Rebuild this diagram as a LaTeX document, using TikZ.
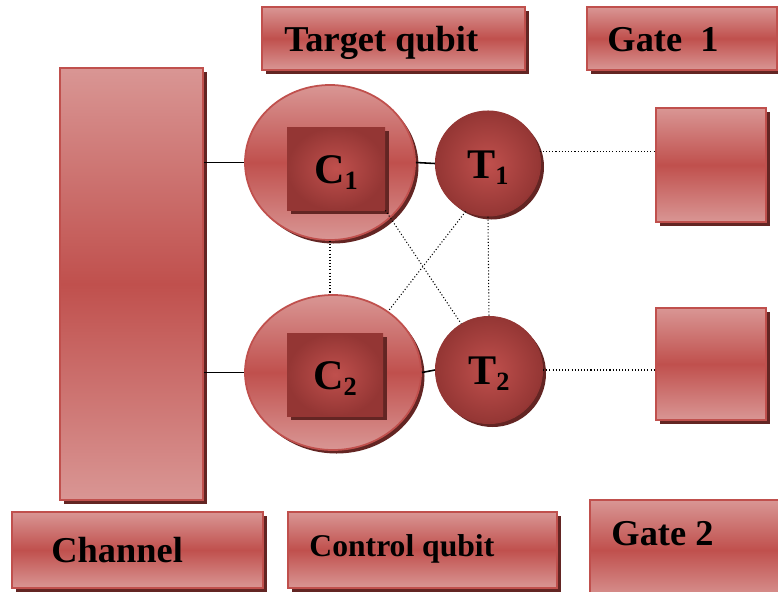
\documentclass[tikz,border=0pt]{standalone}
\usepackage{fontspec}
\setmainfont{Liberation Serif}
\usepackage{tikz}
\usetikzlibrary{shapes.geometric, shadows, positioning, calc}
\definecolor{boxlight}{RGB}{217,150,148}
\definecolor{boxmid}{RGB}{192,80,77}
\definecolor{boxdark}{RGB}{148,54,52}
\definecolor{shadowred}{RGB}{99,37,35}
\newcommand{\qsub}[2]{#1\raisebox{-0.12cm}{\fontsize{15}{15}\selectfont #2}}

\begin{document}
\begin{tikzpicture}[wire/.style={draw=black, line width=0.9pt}, dots/.style={draw=black, line width=0.6pt, dash pattern=on 0.6pt off 1.2pt}, redshadow/.style={drop shadow={fill=shadowred, opacity=1, shadow xshift=0.07cm, shadow yshift=-0.07cm}}]
% Define styles for panels, discs and labels
\tikzstyle{panel} = [rectangle, draw=boxmid, line width=1pt, top color=boxlight, bottom color=boxlight, middle color=boxmid, redshadow]
\tikzstyle{control} = [ellipse, draw=boxmid, line width=1pt, top color=boxlight, bottom color=boxlight, middle color=boxmid, redshadow]
\tikzstyle{core} = [rectangle, inner color=boxmid, outer color=boxdark, redshadow, font=\fontsize{24}{24}\bfseries, text height=0.58cm, text depth=0pt]
\tikzstyle{target} = [circle, draw=boxdark, line width=0.6pt, inner color=boxmid, outer color=boxdark, redshadow, font=\fontsize{24}{24}\bfseries, text height=0.58cm, text depth=0pt]
\tikzstyle{tag} = [inner sep=0pt, font=\fontsize{20.7}{24}\bfseries, text height=0.5cm, text depth=0pt]

\useasboundingbox (0,0) rectangle (15.56,11.82);
\clip (0,0) rectangle (15.56,11.82);

% Top row
\node [panel, minimum width=5.26cm, minimum height=1.26cm] (tq) at (7.87,11.05) {};
\node [tag, right=0.46cm of tq.west] (tqtext) {Target qubit};
\node [panel, minimum width=3.8cm, minimum height=1.26cm] (gone) at (13.64,11.05) {};
\node [tag, right=0.42cm of gone.west] (gonetext) {Gate~~1};

% Channel
\node [panel, minimum width=2.86cm, minimum height=8.64cm] (channel) at (2.63,6.14) {};

% Control qubits
\node [control, minimum width=3.4cm, minimum height=3.1cm] (c1) at (6.6,8.57) {};
\node [core, minimum width=1.96cm, minimum height=1.66cm] (c1box) at (6.72,8.45) {\qsub{C}{1}};
\node [control, minimum width=3.52cm, minimum height=3.1cm] (c2) at (6.66,4.37) {};
\node [core, minimum width=1.92cm, minimum height=1.66cm] (c2box) at (6.70,4.33) {\qsub{C}{2}};

% Target qubits
\node [target, minimum size=2.1cm] (t1) at (9.76,8.55) {\qsub{T}{1}};
\node [target, minimum size=2.14cm] (t2) at (9.78,4.42) {\qsub{T}{2}};

% Gates
\node [panel, minimum width=2.2cm, minimum height=2.28cm] (gatea) at (14.22,8.52) {};
\node [panel, minimum width=2.2cm, minimum height=2.24cm] (gateb) at (14.22,4.54) {};

% Bottom row
\node [panel, minimum width=5.02cm, minimum height=1.52cm] (chlabel) at (2.75,0.82) {};
\node [tag, right=0.8cm of chlabel.west] (chtext) {Channel};
\node [panel, minimum width=5.38cm, minimum height=1.52cm] (cq) at (8.45,0.82) {};
\node [tag, right=0.44cm of cq.west, yshift=0.13cm, font=\fontsize{18}{20}\bfseries] (cqtext) {Control qubit};
\node [panel, minimum width=4.2cm, minimum height=2cm] (gtwo) at (13.9,0.82) {};
\node [tag, right=0.44cm of gtwo.west, yshift=0.34cm] (gtwotext) {Gate 2};

% Links
\draw [wire] (c1.west -| channel.east) -- (c1.west);
\draw [wire] (c2.west -| channel.east) -- (c2.west);
\draw [wire] (c1.east) -- (t1.west);
\draw [wire] (c2.east) -- (t2.west);
\draw [dots] (t1.13) -- (t1.13 -| gatea.west);
\draw [dots] (t2.east) -- (t2.east -| gateb.west);
\draw [dots] (c1.south) -- (c1.south |- c2.north);
\draw [dots] (t1.south) -- (t2.north);
\draw [dots] (c1box.south east) -- (t2.121);
\draw [dots] (t1.245) -- (c2.48);
\end{tikzpicture}
\end{document}
